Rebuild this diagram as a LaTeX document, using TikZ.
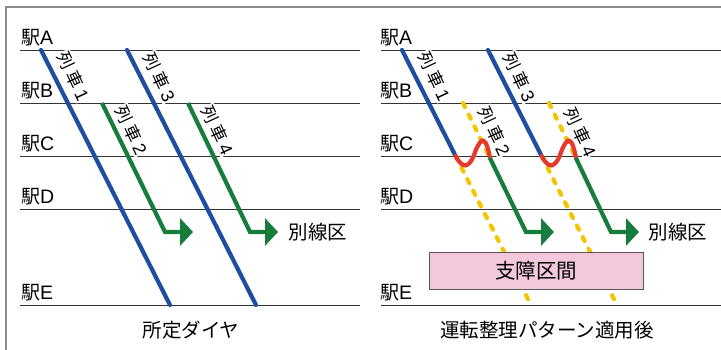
\documentclass[tikz,border=0pt]{standalone}
\usepackage{fontspec}
\newfontfamily\jp{Noto Sans CJK JP}
\newfontfamily\lat{Liberation Sans}
\usetikzlibrary{arrows.meta}
\definecolor{tblue}{HTML}{1F4DA0}
\definecolor{tgreen}{HTML}{177D3C}
\definecolor{tyellow}{HTML}{F5C400}
\definecolor{tred}{HTML}{E5392E}
\definecolor{tpink}{HTML}{F3C8DD}
\definecolor{framecol}{HTML}{8A8A8A}
\newcommand\fs[1]{\fontsize{#1}{#1}\selectfont}
\newcommand\trainlbl[1]{列\hspace{4pt}車\hspace{4pt}{\lat\fs{18}#1}}
\tikzset{
  stnline/.style={draw=black!80, line width=0.9pt},
  stn/.style={font=\jp\fs{19}, anchor=west, inner sep=0pt},
  blueline/.style={draw=tblue, line width=4.2pt, line cap=round},
  greenarrow/.style={draw=tgreen, line width=4.2pt, line join=miter,
    -{Triangle[length=13pt,width=27pt]}},
  yellowdash/.style={draw=tyellow, line width=4.2pt, line cap=round,
    dash pattern=on 4.5pt off 8.5pt},
  redwave/.style={draw=tred, line width=4.2pt, line cap=round, line join=round},
  lbl/.style={font=\jp\fs{17}, inner sep=0.6pt, fill=white, rotate=-65},
  boxlbl/.style={font=\jp\fs{20.5}, inner sep=0pt},
  caption/.style={font=\jp\fs{19.5}, inner sep=0pt},
}
\begin{document}
\begin{tikzpicture}[x=1pt,y=-1pt]
\useasboundingbox (0,0) rectangle (721,350);
% frame
\coordinate (f1) at (6,350);
\coordinate (f2) at (6,7);
\coordinate (f3) at (721,7);
\draw[framecol, line width=1.5pt] (f1) -- (f2) -- (f3);

% station lines
\foreach \n/\y in {A/50,B/103,C/156,D/209,E/305} {
  \coordinate (L\n1) at (20,\y);
  \coordinate (L\n2) at (360,\y);
  \draw[stnline] (L\n1) -- (L\n2);
  \node[stn] (lab\n) at (21,\y-12) {駅{\lat\fs{19.5}\n}};
  \coordinate (R\n1) at (381,\y);
  \coordinate (R\n2) at (721,\y);
  \draw[stnline] (R\n1) -- (R\n2);
  \node[stn] (rlab\n) at (380,\y-12) {駅{\lat\fs{19.5}\n}};
}

% train labels (white backing interrupts the station lines)
\node[lbl] (l1) at (73,76) {\trainlbl{1}};
\node[lbl] (l3) at (159,77) {\trainlbl{3}};
\node[lbl] (l2) at (131,130) {\trainlbl{2}};
\node[lbl] (l4) at (217,130) {\trainlbl{4}};
\node[lbl] (rl1) at (434,76) {\trainlbl{1}};
\node[lbl] (rl3) at (519,77) {\trainlbl{3}};
\node[lbl] (rl2) at (494,131) {\trainlbl{2}};
\node[lbl] (rl4) at (580,132) {\trainlbl{4}};

% ---------- left panel ----------
\coordinate (t1s) at (41,50);   \coordinate (t1e) at (170,305);
\coordinate (t3s) at (127,50);  \coordinate (t3e) at (256,305);
\draw[blueline] (t1s) -- (t1e);
\draw[blueline] (t3s) -- (t3e);
\coordinate (t2s) at (102,103); \coordinate (t2b) at (165,232); \coordinate (t2e) at (193,232);
\coordinate (t4s) at (188,103); \coordinate (t4b) at (250,232); \coordinate (t4e) at (278,232);
\draw[greenarrow] (t2s) -- (t2b) -- (t2e);
\draw[greenarrow] (t4s) -- (t4b) -- (t4e);

\node[caption] (bx1) at (318,232) {別線区};
\node[caption] (cap1) at (191,330) {所定ダイヤ};

% ---------- right panel ----------
% cancelled portions (yellow dashed)
\coordinate (y2s) at (463,103);   \coordinate (y2e) at (489.9,158);
\coordinate (y1s) at (455.6,156); \coordinate (y1e) at (531,305);
\coordinate (y4s) at (549,103);   \coordinate (y4e) at (575.9,158);
\coordinate (y3s) at (541.6,156); \coordinate (y3e) at (617,305);
\draw[yellowdash] (y2s) -- (y2e);
\draw[yellowdash] (y1s) -- (y1e);
\draw[yellowdash] (y4s) -- (y4e);
\draw[yellowdash] (y3s) -- (y3e);

\coordinate (r1s) at (402,50);
\coordinate (r3s) at (488,50);
\draw[blueline] (r1s) -- (y1s);
\draw[blueline] (r3s) -- (y3s);

\foreach \dx in {0,86} {
  \draw[redwave, shift={(\dx,0)}] plot[smooth, tension=0.6] coordinates
    {(455.6,156) (460,162.5) (466,165.5) (472,159.5) (477,147.5) (482,140.5) (486,143.5) (488.5,151) (490,158)};
}

\coordinate (r2b) at (526,232); \coordinate (r2e) at (554,232);
\coordinate (r4b) at (611,232); \coordinate (r4e) at (639,232);
\draw[greenarrow] (y2e) -- (r2b) -- (r2e);
\draw[greenarrow] (y4e) -- (r4b) -- (r4e);

\node[draw=black!65, fill=tpink, line width=0.9pt, minimum width=214pt,
      minimum height=37pt, inner sep=0pt] (box) at (536,270.5) {};
\node[boxlbl] (boxtext) at (536,271) {支障区間};

\node[caption] (bx2) at (678,232) {別線区};
\node[caption] (cap2) at (547,330) {運転整理パターン適用後};
\end{tikzpicture}
\end{document}
